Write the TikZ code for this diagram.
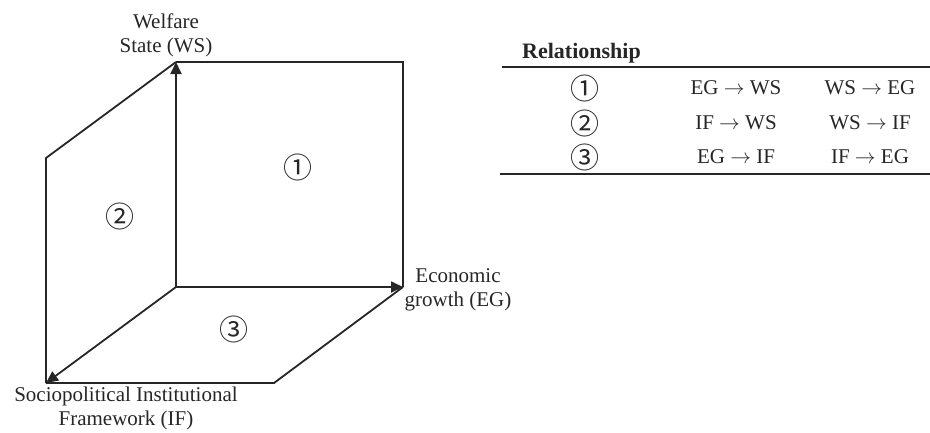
\documentclass[tikz,border=0pt]{standalone}
\usepackage{fontspec}
\setmainfont{Liberation Serif}
\newfontfamily\circfont{Noto Sans CJK SC}
\usetikzlibrary{arrows.meta}
\begin{document}
\begin{tikzpicture}[x=1pt,y=-1pt,
  edge/.style={line width=1.8pt,draw=black!85,line join=miter},
  axis/.style={edge,-{Triangle[length=12pt,width=11pt]}},
  lbl/.style={font=\fontsize{21}{24}\selectfont,align=center,inner sep=0pt,text=black!85},
  circ/.style={font=\circfont\fontsize{29}{30}\selectfont,inner sep=0pt,text=black!85},
  cell/.style={font=\fontsize{21}{24}\selectfont,inner sep=0pt,text=black!85},
  rule/.style={line width=2pt,draw=black!85}]
\useasboundingbox (0,0) rectangle (930,432);
% corners
\coordinate (O) at (176,287);
\coordinate (W) at (176,62);
\coordinate (E) at (403,287);
\coordinate (I) at (46,383);
\coordinate (WE) at (403,62);
\coordinate (WI) at (46,158);
\coordinate (EI) at (274,383);
% panels
\draw[edge] (W) -- (WE) -- (E);
\draw[edge] (W) -- (WI) -- (I);
\draw[edge] (I) -- (EI) -- (E);
% axes
\draw[axis] (O) -- (W);
\draw[axis] (O) -- (E);
\draw[axis] (O) -- (I);
% labels
\node[lbl] (lws) at (166,35) {Welfare\\State (WS)};
\node[lbl] (leg) at (458,290) {Economic\\growth (EG)};
\node[lbl] (lif) at (126,408) {Sociopolitical Institutional\\Framework (IF)};
\node[circ] (c1) at (298,167) {①};
\node[circ] (c2) at (120,216) {②};
\node[circ] (c3) at (234,329) {③};
% table
\node[cell,font=\bfseries\fontsize{22}{24}\selectfont,anchor=base west] (th) at (522,58) {Relationship};
\coordinate (r1a) at (502,67);
\coordinate (r1b) at (930,67);
\coordinate (r2a) at (500,174);
\coordinate (r2b) at (930,174);
\draw[rule] (r1a) -- (r1b);
\draw[rule] (r2a) -- (r2b);
\node[circ] (t1) at (585,88) {①};
\node[circ] (t2) at (585,123) {②};
\node[circ] (t3) at (585,157) {③};
\node[cell] (a1) at (736,88) {EG $\rightarrow$ WS};
\node[cell] (b1) at (870,88) {WS $\rightarrow$ EG};
\node[cell] (a2) at (736,123) {IF $\rightarrow$ WS};
\node[cell] (b2) at (870,123) {WS $\rightarrow$ IF};
\node[cell] (a3) at (736,157) {EG $\rightarrow$ IF};
\node[cell] (b3) at (870,157) {IF $\rightarrow$ EG};
\end{tikzpicture}
\end{document}
